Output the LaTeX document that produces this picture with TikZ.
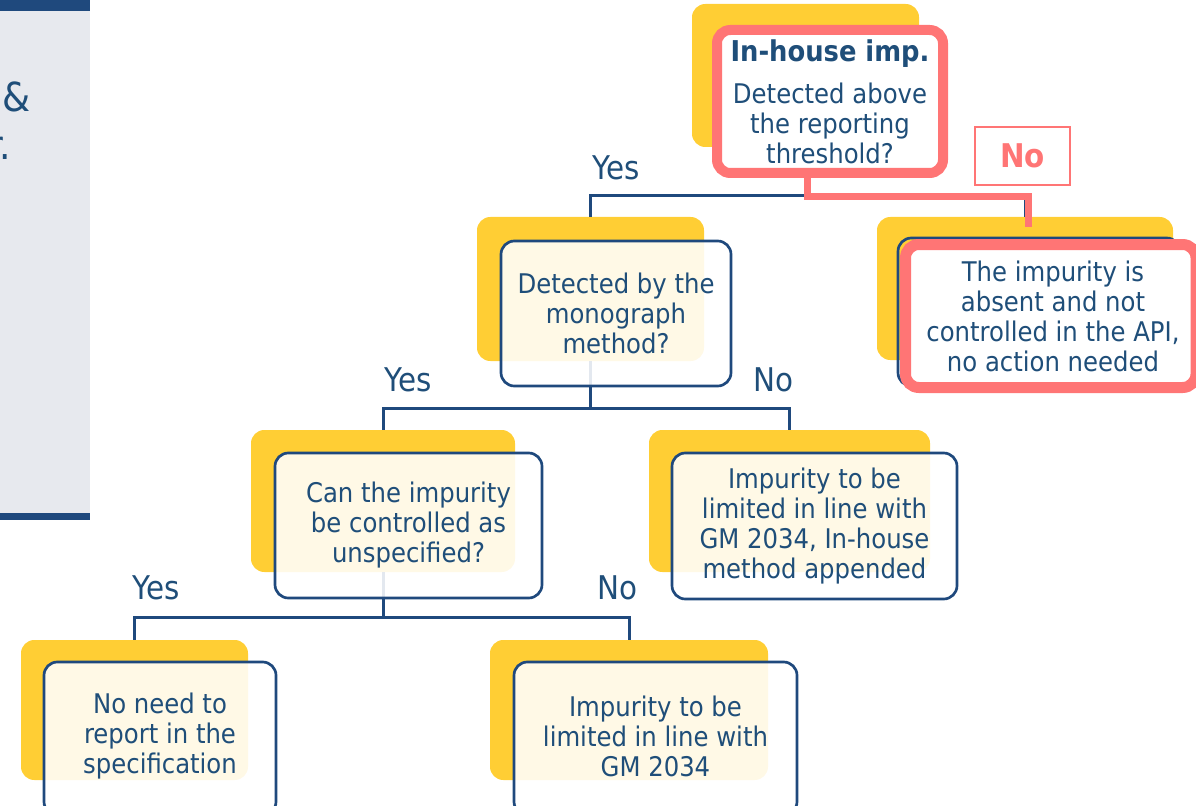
\documentclass[tikz,border=0pt]{standalone}
\usepackage{fontspec}
\setmainfont{DejaVu Sans Condensed}
\definecolor{myyellow}{RGB}{255,206,52}
\definecolor{myblue}{RGB}{31,73,125}
\definecolor{txtblue}{RGB}{31,78,121}
\definecolor{myred}{RGB}{255,117,117}
\definecolor{panelgray}{RGB}{231,233,238}
\newcommand\bodyfont{\fontsize{20.3}{22.5}\selectfont}
\newcommand\lblfont{\fontsize{24.5}{28}\selectfont}
\tikzset{
  yel/.style={fill=myyellow, draw=none, rounded corners=10pt, inner sep=0pt},
  bbox/.style={draw=myblue, line width=2pt, fill=white, fill opacity=0.88, text opacity=1,
    rounded corners=10pt, align=center, text=txtblue, inner sep=0pt, font=\bodyfont},
  rbox/.style={draw=myred, line width=8pt, fill=white, rounded corners=10pt,
    align=center, text=txtblue, inner sep=0pt, font=\bodyfont},
  lbl/.style={text=txtblue, font=\lblfont, inner sep=0pt},
  txt/.style={text=txtblue, font=\bodyfont, inner sep=0pt, align=center},
  conn/.style={draw=myblue, line width=2.25pt},
  rconn/.style={draw=myred, line width=5.25pt},
}
\begin{document}
\begin{tikzpicture}[x=0.75pt, y=-0.75pt]
\path[use as bounding box] (0,0) rectangle (1196,806);
\clip (0,0) rectangle (1196,806);
% left panel
\fill[panelgray] (0,0) rectangle (90,518);
\fill[myblue] (0,0) rectangle (90,11);
\fill[myblue] (0,513) rectangle (90,520);
\node[text=txtblue, font=\fontsize{30}{36}\selectfont, inner sep=0pt] (amp) at (17,97) {\&};
\node[text=txtblue, font=\fontsize{30}{36}\selectfont, inner sep=0pt, anchor=base east] (rdot) at (11,160) {r.};

% yellow backgrounds
\node[yel, minimum width={227*0.75pt}, minimum height={143*0.75pt}] (yA) at (805.5,75.5) {};
\node[yel, minimum width={227*0.75pt}, minimum height={144*0.75pt}] (yB) at (590.5,289) {};
\node[yel, minimum width={296*0.75pt}, minimum height={143*0.75pt}] (yC) at (1025,288.5) {};
\node[yel, minimum width={264*0.75pt}, minimum height={142*0.75pt}] (yD) at (383,501) {};
\node[yel, minimum width={281*0.75pt}, minimum height={142*0.75pt}] (yE) at (789.5,501) {};
\node[yel, minimum width={227*0.75pt}, minimum height={140*0.75pt}] (yF) at (134.5,710) {};
\node[yel, minimum width={278*0.75pt}, minimum height={140*0.75pt}] (yG) at (629,710) {};

% connectors
\draw[conn] (yA.south) -- ++(0,48) -| (yB.north);
\draw[conn] (yA.south) -- ++(0,48) -| (yC.north);
\draw[conn] (yB.south) -- ++(0,47) -| (yD.north);
\draw[conn] (yB.south) -- ++(0,47) -| (yE.north);
\draw[conn] (yD.south) -- ++(0,45) -| (yF.north);
\draw[conn] (yD.south) -- ++(0,45) -| (yG.north);
\coordinate (rend) at ([xshift=2.5pt, yshift=-7.5pt]yC.north);
\draw[rconn] ([xshift=1.5pt]yA.south) -- ++(0,49) -| (rend);

% boxes
\node[rbox, line width=7.5pt, minimum width={226*0.75pt}, minimum height={143*0.75pt}] (nA) at (830,101.5)
  {{\fontsize{21.5}{22.5}\selectfont\bfseries In-house imp.}\\[9pt]Detected above\\the reporting\\threshold?};
\node[bbox, minimum width={230*0.75pt}, minimum height={145*0.75pt}] (nB) at (616,313.5)
  {Detected by the\\monograph\\method?};
\node[draw=myblue, line width=2pt, rounded corners=10pt, minimum width={282*0.75pt}, minimum height={148*0.75pt}] (nCb) at (1039,312) {};
\node[rbox, line width=8.25pt, minimum width={290.5*0.75pt}, minimum height={143*0.75pt}] (nC) at (1050.75,316) {};
\node[txt] (tC) at (1053,316) {The impurity is\\absent and not\\controlled in the API,\\no action needed};
\node[bbox, minimum width={267*0.75pt}, minimum height={145*0.75pt}] (nD) at (408.5,525.5)
  {Can the impurity\\be controlled as\\unspecified?};
\node[bbox, minimum width={285*0.75pt}, minimum height={146*0.75pt}] (nE) at (814.5,526)
  {Impurity to be\\limited in line with\\GM 2034, In-house\\method appended};
\node[bbox, minimum width={232*0.75pt}, minimum height={153*0.75pt}] (nF) at (160,738.5) {};
\node[txt] (tF) at (160,736) {No need to\\report in the\\specification};
\node[bbox, minimum width={283*0.75pt}, minimum height={153*0.75pt}] (nG) at (655.5,738.5) {};
\node[txt] (tG) at (655.5,736) {Impurity to be\\limited in line with\\GM 2034};

% No box
\node[draw=myred, line width=1.5pt, fill=white, minimum width={95*0.75pt}, minimum height={58*0.75pt},
  text=myred, font=\lblfont\bfseries, inner sep=0pt] (nobox) at (1022.5,156) {No};

% labels
\node[lbl] (yes1) at (616,168) {Yes};
\node[lbl] (yes2) at (408,380) {Yes};
\node[lbl] (no2) at (773,380) {No};
\node[lbl] (yes3) at (156,588) {Yes};
\node[lbl] (no3) at (617,588) {No};
\end{tikzpicture}
\end{document}
